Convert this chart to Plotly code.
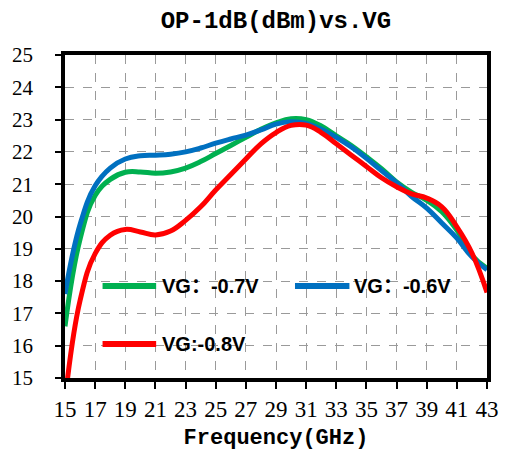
import plotly.graph_objects as go

freq = list(range(15, 44))
vg_06 = [17.6, 19.75, 20.95, 21.5, 21.78, 21.88, 21.9, 21.93, 22.0, 22.12, 22.27, 22.4, 22.52,
         22.68, 22.86, 22.93, 22.88, 22.7, 22.45, 22.15, 21.8, 21.42, 21.05, 20.62, 20.26,
         19.8, 19.33, 18.75, 18.35]
vg_07 = [16.6, 19.3, 20.65, 21.15, 21.37, 21.38, 21.34, 21.38, 21.5, 21.7, 21.95, 22.2, 22.45,
         22.7, 22.9, 23.03, 23.0, 22.8, 22.5, 22.2, 21.85, 21.48, 21.07, 20.75, 20.5,
         20.15, 19.58, 18.8, 18.4]
vg_08 = [14.3, 17.4, 18.85, 19.42, 19.6, 19.52, 19.43, 19.55, 19.88, 20.3, 20.82, 21.3, 21.78,
         22.25, 22.6, 22.82, 22.83, 22.6, 22.25, 21.9, 21.55, 21.2, 20.92, 20.7, 20.57,
         20.3, 19.68, 18.87, 17.65]

series = [
    ("VG：-0.7V", vg_07, "#00B050"),
    ("VG：-0.6V", vg_06, "#0070C0"),
    ("VG:-0.8V", vg_08, "#FF0000"),
]

x_ticks = list(range(15, 44, 2))
y_ticks = list(range(15, 26))

serif = "Liberation Serif"
mono = "Liberation Mono"

fig = go.Figure()
for name, vals, color in series:
    fig.add_trace(go.Scatter(x=freq, y=vals, mode="lines", name=name,
                             line=dict(color=color, width=5, shape="spline", smoothing=1.2),
                             showlegend=False))

legend_pos = [
    (0.089, 0.216, 0.285, 0.225),
    (0.545, 0.674, 0.285, 0.681),
    (0.089, 0.216, 0.105, 0.225),
]
for (name, vals, color), (x0, x1, yy, xt) in zip(series, legend_pos):
    fig.add_shape(type="line", xref="paper", yref="paper", x0=x0, x1=x1, y0=yy, y1=yy,
                  line=dict(color=color, width=6))
    fig.add_annotation(xref="paper", yref="paper", x=xt, y=yy, text="<b>%s</b>" % name,
                       showarrow=False, xanchor="left", yanchor="middle",
                       font=dict(family="Liberation Sans, Noto Sans CJK SC", size=20, color="black"))

fig.update_layout(
    width=511, height=461,
    margin=dict(l=63, r=22, t=55, b=83),
    paper_bgcolor="white", plot_bgcolor="white",
    font=dict(family=serif, size=21, color="black"),
    title=dict(text="<b>OP-1dB(dBm)vs.VG</b>", x=0.54, xanchor="center", y=0.957, yanchor="middle",
               font=dict(family=mono, size=24, color="black")),
    xaxis=dict(range=[15, 43], tickvals=x_ticks, ticktext=[str(v) for v in x_ticks],
               showline=True, linecolor="black", linewidth=3.5, mirror=True,
               showgrid=True, gridcolor="#9a9a9a", griddash="dash", gridwidth=1,
               ticks="outside", tickcolor="black", tickwidth=1.5, ticklen=7,
               ticklabelstandoff=1, zeroline=False,
               tickfont=dict(family=serif, size=23, color="black"),
               title=dict(text="<b>Frequency(GHz)</b>", standoff=8,
                          font=dict(family=mono, size=22, color="black"))),
    yaxis=dict(range=[15, 25], tickvals=y_ticks,
               showline=True, linecolor="black", linewidth=3.5, mirror=True,
               showgrid=True, gridcolor="#9a9a9a", griddash="dash", gridwidth=1,
               ticks="outside", tickcolor="black", tickwidth=1.5, ticklen=6,
               ticklabelstandoff=18, zeroline=False,
               tickfont=dict(family=serif, size=21, color="black")),
)

fig.write_html("out.html")
